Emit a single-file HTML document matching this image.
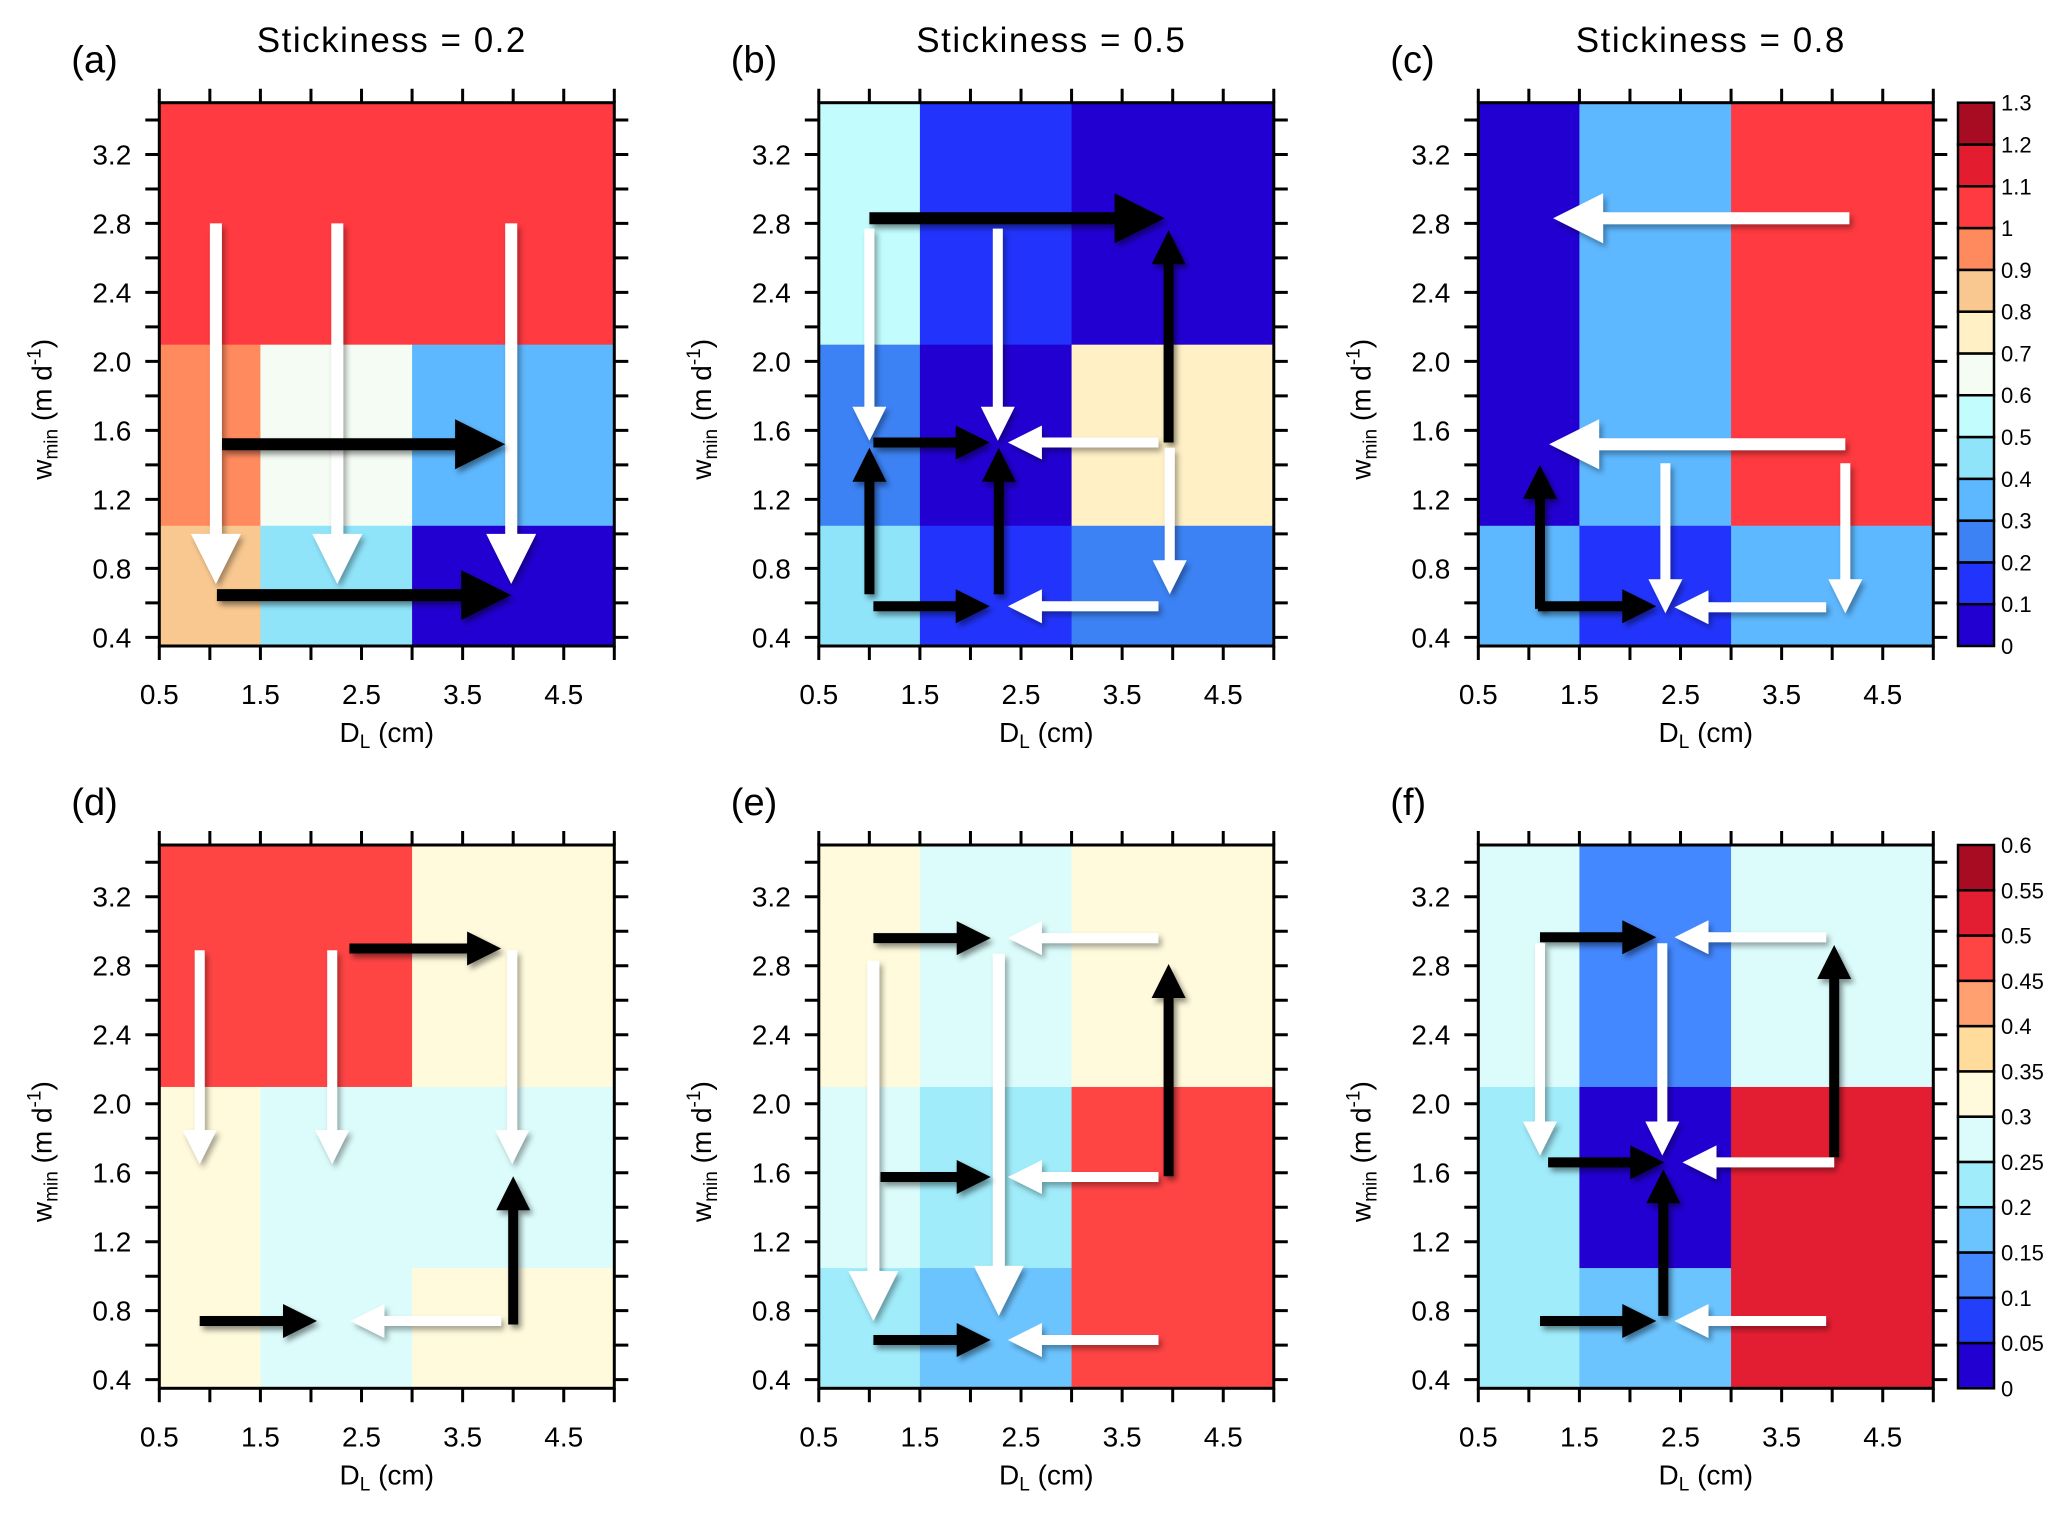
<!DOCTYPE html>
<html><head><meta charset="utf-8">
<style>
html,body{margin:0;padding:0;background:#fff;}
svg{display:block;font-family:"Liberation Sans","DejaVu Sans",sans-serif;}
</style></head>
<body>
<svg id="fig" width="2067" height="1514" viewBox="0 0 2067 1514" xmlns="http://www.w3.org/2000/svg">
<defs>
<filter id="shW" x="-30%" y="-30%" width="160%" height="160%"><feDropShadow dx="3" dy="4" stdDeviation="3" flood-color="#000" flood-opacity="0.35"/></filter>
<filter id="shB" x="-30%" y="-30%" width="160%" height="160%"><feDropShadow dx="3" dy="4" stdDeviation="3" flood-color="#000" flood-opacity="0.45"/></filter>
</defs>
</svg>
<script>
// ---- data ----
const xEdges = [0.5, 1.5, 3.0, 5.0];
const yEdges = [0.35, 1.05, 2.1, 3.5];
const xTickLabels = ["0.5","1.5","2.5","3.5","4.5"];
const yTickLabels = ["0.4","0.8","1.2","1.6","2.0","2.4","2.8","3.2"];
const titles = ["Stickiness  =  0.2","Stickiness  =  0.5","Stickiness  =  0.8"];
const panelLetters = ["(a)","(b)","(c)","(d)","(e)","(f)"];
// cell values, rows bottom->top, cols left->right
const valsA = [[0.85,0.45,0.05],[0.95,0.65,0.35],[1.05,1.05,1.05]];
const valsB = [[0.45,0.15,0.25],[0.25,0.05,0.75],[0.55,0.15,0.05]];
const valsC = [[0.35,0.15,0.35],[0.05,0.35,1.05],[0.05,0.35,1.05]];
const valsD = [[0.32,0.27,0.32],[0.32,0.27,0.27],[0.47,0.47,0.32]];
const valsE = [[0.22,0.17,0.47],[0.27,0.22,0.47],[0.32,0.27,0.32]];
const valsF = [[0.22,0.17,0.52],[0.22,0.02,0.52],[0.27,0.12,0.27]];
// colour scales
const levelsTop = [0,0.1,0.2,0.3,0.4,0.5,0.6,0.7,0.8,0.9,1.0,1.1,1.2,1.3];
const colorsTop = ["#2200d2","#2234fc","#3c82f4","#5eb8ff","#90e4fa","#c2fcfc","#f4fcf4","#fff0c6","#f8c890","#ff8a5e","#ff3a40","#e41c30","#a80c22"];
const cbTopLabels = ["0","0.1","0.2","0.3","0.4","0.5","0.6","0.7","0.8","0.9","1","1.1","1.2","1.3"];
const levelsBot = [0,0.05,0.1,0.15,0.2,0.25,0.3,0.35,0.4,0.45,0.5,0.55,0.6];
const colorsBot = ["#2200d2","#2240fc","#4488ff","#6cc4ff","#a0ecfa","#dcfcfc","#fffadc","#ffdc9c","#ffa070","#ff4444","#e41e32","#a80c22"];
const cbBotLabels = ["0","0.05","0.1","0.15","0.2","0.25","0.3","0.35","0.4","0.45","0.5","0.55","0.6"];
// arrows: [x0,y0,x1(tip),y1(tip),colour,size]
const arrowsA = [[1.06,2.80,1.06,0.71,"w","b"],[2.26,2.80,2.26,0.71,"w","b"],[3.98,2.80,3.98,0.71,"w","b"],
 [1.12,1.52,3.92,1.52,"k","b"],[1.07,0.645,3.98,0.645,"k","b"]];
const arrowsB = [[1.0,2.83,3.92,2.83,"k","b"],[3.96,1.53,3.96,2.76,"k","s"],[1.04,1.53,2.19,1.53,"k","s"],
 [1.0,0.65,1.0,1.50,"k","s"],[2.28,0.65,2.28,1.50,"k","s"],[1.04,0.58,2.19,0.58,"k","s"],
 [1.0,2.77,1.0,1.54,"w","s"],[2.27,2.77,2.27,1.54,"w","s"],[3.86,1.53,2.37,1.53,"w","s"],
 [3.97,1.50,3.97,0.65,"w","s"],[3.86,0.58,2.37,0.58,"w","s"]];
const arrowsC = [[4.17,2.83,1.24,2.83,"w","b"],[4.13,1.52,1.20,1.52,"w","b"],
 [1.11,0.565,1.11,1.40,"k","s"],[1.09,0.58,2.26,0.58,"k","s"],
 [2.35,1.41,2.35,0.54,"w","s"],[4.13,1.41,4.13,0.54,"w","s"],[3.94,0.575,2.44,0.575,"w","s"]];
const arrowsD = [[0.90,2.89,0.90,1.65,"w","s"],[2.21,2.89,2.21,1.65,"w","s"],[3.99,2.89,3.99,1.65,"w","s"],
 [2.38,2.90,3.88,2.90,"k","s"],[4.0,0.72,4.0,1.58,"k","s"],[0.90,0.74,2.06,0.74,"k","s"],[3.88,0.74,2.39,0.74,"w","s"]];
const arrowsE = [[1.04,2.96,2.20,2.96,"k","s"],[3.86,2.96,2.37,2.96,"w","s"],
 [1.04,2.83,1.04,0.74,"w","b"],[2.28,2.87,2.28,0.77,"w","b"],[3.96,1.58,3.96,2.81,"k","s"],
 [1.11,1.575,2.20,1.575,"k","s"],[3.86,1.575,2.37,1.575,"w","s"],
 [1.04,0.63,2.20,0.63,"k","s"],[3.86,0.63,2.37,0.63,"w","s"]];
const arrowsF = [[1.11,2.965,2.26,2.965,"k","s"],[3.94,2.965,2.44,2.965,"w","s"],
 [1.11,2.93,1.11,1.70,"w","s"],[2.32,2.93,2.32,1.70,"w","s"],[4.02,1.69,4.02,2.92,"k","s"],
 [1.19,1.66,2.34,1.66,"k","s"],[4.02,1.66,2.52,1.66,"w","s"],[2.33,0.77,2.33,1.62,"k","s"],
 [1.11,0.74,2.26,0.74,"k","s"],[3.94,0.74,2.44,0.74,"w","s"]];

const panelVals = [valsA,valsB,valsC,valsD,valsE,valsF];
const panelArrows = [arrowsA,arrowsB,arrowsC,arrowsD,arrowsE,arrowsF];

// ---- layout ----
const NS = "http://www.w3.org/2000/svg";
const svg = document.getElementById("fig");
const colX = [159.3, 818.8, 1478.3];
const rowY = [102.7, 845];
const PW = 455, PH = 543.3;
const XMIN = 0.5, XMAX = 5.0, YMIN = 0.35, YMAX = 3.5;
const TICK = 14;

function el(tag, attrs, parent) {
  const e = document.createElementNS(NS, tag);
  for (const k in attrs) e.setAttribute(k, attrs[k]);
  (parent || svg).appendChild(e);
  return e;
}
function colorFor(v, levels, colors) {
  for (let i = 0; i < colors.length; i++) if (v >= levels[i] && v < levels[i+1]) return colors[i];
  return colors[colors.length-1];
}

function arrowPoly(x0,y0,x1,y1,w,L,H){
  const dx=x1-x0, dy=y1-y0, len=Math.hypot(dx,dy);
  const ux=dx/len, uy=dy/len, px=-uy, py=ux;
  const bx=x1-ux*L, by=y1-uy*L;
  const pts=[[x0+px*w,y0+py*w],[bx+px*w,by+py*w],[bx+px*H,by+py*H],[x1,y1],[bx-px*H,by-py*H],[bx-px*w,by-py*w],[x0-px*w,y0-py*w]];
  return pts.map(p=>p[0].toFixed(1)+","+p[1].toFixed(1)).join(" ");
}

for (let p = 0; p < 6; p++) {
  const left = colX[p%3], top = rowY[Math.floor(p/3)];
  const sx = v => left + (v - XMIN) / (XMAX - XMIN) * PW;
  const sy = v => top + (YMAX - v) / (YMAX - YMIN) * PH;
  const g = el("g", {});
  
  
  const levels = p < 3 ? levelsTop : levelsBot;
  const colors = p < 3 ? colorsTop : colorsBot;
  const vals = panelVals[p];
  for (let r = 0; r < 3; r++) for (let c = 0; c < 3; c++) {
    const rect = el("rect", {x: sx(xEdges[c]), y: sy(yEdges[r+1]), width: sx(xEdges[c+1]) - sx(xEdges[c]) + 0.5,
      height: sy(yEdges[r]) - sy(yEdges[r+1]) + 0.5, fill: colorFor(vals[r][c], levels, colors)}, g);
    
    
  }
  const ag = el("g", {}, g);
  
  
  for (const a of panelArrows[p]) {
    const big = a[5] === "b";
    const poly = el("polygon", {points: arrowPoly(sx(a[0]), sy(a[1]), sx(a[2]), sy(a[3]), big?6:5, big?50:34, big?25:17),
      fill: a[4] === "w" ? "#ffffff" : "#000000", filter: a[4] === "w" ? "url(#shW)" : "url(#shB)"}, ag);
    
    
  }
  const fr = el("rect", {x: left, y: top, width: PW, height: PH, fill: "none", stroke: "#000", "stroke-width": 3}, g);
  
  
  let d = "";
  for (let i = 0; i <= 9; i++) {
    const x = sx(0.5 + i*0.5);
    d += `M${x},${top}v${-TICK}M${x},${top+PH}v${TICK}`;
  }
  for (let i = 0; i <= 15; i++) {
    const y = sy(0.4 + i*0.2);
    d += `M${left},${y}h${-TICK}M${left+PW},${y}h${TICK}`;
  }
  const tk = el("path", {d: d, stroke: "#000", "stroke-width": 3, fill: "none"}, g);
  
  
  xTickLabels.forEach((s, i) => {
    const t = el("text", {x: sx(parseFloat(s)), y: top + PH + 58, "font-size": 28, "text-anchor": "middle"}, g);
    t.textContent = s;
    
    
  });
  yTickLabels.forEach((s) => {
    const t = el("text", {x: left - 28, y: sy(parseFloat(s)) + 10, "font-size": 28, "text-anchor": "end"}, g);
    t.textContent = s;
    
    
  });
  const xt = el("text", {x: left + PW/2, y: top + PH + 96, "font-size": 28, "text-anchor": "middle"}, g);
  xt.innerHTML = 'D<tspan font-size="19" dy="6">L</tspan><tspan dy="-6"> (cm)</tspan>';
  
  
  const cy = top + PH/2 + 35;
  const yt = el("text", {x: 0, y: 0, "font-size": 28, "text-anchor": "middle", transform: `translate(${left-108},${cy}) rotate(-90)`}, g);
  yt.innerHTML = 'w<tspan font-size="19" dy="6">min</tspan><tspan dy="-6"> (m d</tspan><tspan font-size="19" dy="-11">-1</tspan><tspan dy="11">)</tspan>';
  
  
  const pl = el("text", {x: left - 88, y: top - 30, "font-size": 38}, g);
  pl.textContent = panelLetters[p];
  
  
  if (p < 3) {
    const tt = el("text", {x: left + PW/2 + 5, y: 52, "font-size": 35, "text-anchor": "middle", "letter-spacing": "1.5", "xml:space": "preserve"}, g);
    tt.textContent = titles[p];
    
    
  }
}

function colorbar(top, levels, colors, labels, name) {
  const g = el("g", {});
  
  
  const cx = 1958, cw = 36;
  const n = colors.length;
  const sy = v => top + PH - (v - levels[0]) / (levels[n] - levels[0]) * PH;
  for (let i = 0; i < n; i++) {
    const r = el("rect", {x: cx, y: sy(levels[i+1]), width: cw, height: sy(levels[i]) - sy(levels[i+1]), fill: colors[i], stroke: "#000", "stroke-width": 2.5}, g);
    
    
  }
  labels.forEach((s, i) => {
    const t = el("text", {x: cx + cw + 7, y: sy(levels[i]) + 8, "font-size": 22}, g);
    t.textContent = s;
    
    
  });
}
colorbar(rowY[0], levelsTop, colorsTop, cbTopLabels, 'colorbar-top');
colorbar(rowY[1], levelsBot, colorsBot, cbBotLabels, 'colorbar-bottom');
</script>
</body></html>
